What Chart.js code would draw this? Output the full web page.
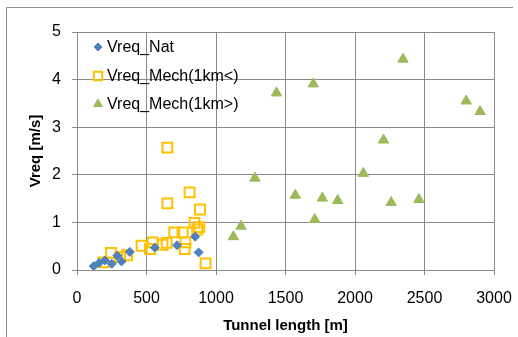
<!DOCTYPE html>
<html>
<head>
<meta charset="utf-8">
<script src="https://cdn.jsdelivr.net/npm/chart.js@4/dist/chart.umd.min.js"></script>
<style>
  html, body { margin: 0; padding: 0; background: #fff; }
  #wrap { width: 518px; height: 337px; position: relative; }
</style>
</head>
<body>
<div id="wrap"><canvas id="myChart" width="518" height="337"></canvas></div>
<script>
// Data
const natX = [120, 160, 200, 250, 290, 320, 380, 560, 720, 850, 875];
const natY = [0.08, 0.15, 0.20, 0.13, 0.30, 0.18, 0.38, 0.47, 0.52, 0.70, 0.37];

const mechLowX = [190, 245, 310, 360, 465, 525, 545, 615, 645, 650, 650, 700, 760, 780, 775, 810, 845, 865, 880, 885, 925];
const mechLowY = [0.16, 0.36, 0.27, 0.31, 0.51, 0.44, 0.58, 0.53, 0.57, 1.40, 2.57, 0.79, 0.79, 0.58, 0.44, 1.63, 0.99, 0.85, 0.90, 1.27, 0.14];

const mechHighX = [1125, 1180, 1280, 1435, 1570, 1700, 1710, 1765, 1875, 2060, 2205, 2260, 2345, 2460, 2800, 2900];
const mechHighY = [0.70, 0.92, 1.93, 3.72, 1.57, 3.91, 1.06, 1.51, 1.46, 2.03, 2.73, 1.42, 4.43, 1.48, 3.55, 3.33];

const seriesNames = ['Vreq_Nat', 'Vreq_Mech(1km<)', 'Vreq_Mech(1km>)'];
const xTicks = [0, 500, 1000, 1500, 2000, 2500, 3000];
const yTicks = [0, 1, 2, 3, 4, 5];

function toPoints(xs, ys) {
    return xs.map((x, i) => ({ x: x, y: ys[i] }));
}

const FONT = "'Liberation Sans', Arial, sans-serif";
const GRID = '#8a8a8a';

// Outer frame and legend drawn inside the plot area
const framePlugin = {
    id: 'frame',
    afterDraw(chart) {
        const ctx = chart.ctx;
        ctx.save();
        ctx.strokeStyle = '#8c8c8c';
        ctx.lineWidth = 1;
        ctx.beginPath();
        ctx.moveTo(6.5, 337);
        ctx.lineTo(6.5, 7.5);
        ctx.lineTo(513, 7.5);
        ctx.stroke();

        // legend
        const rows = [47, 76, 104];
        ctx.font = '16px ' + FONT;
        ctx.textBaseline = 'middle';
        chart.data.datasets.forEach((ds, i) => {
            const y = rows[i];
            const opts = {
                pointStyle: ds.pointStyle,
                radius: ds.legendRadius,
                borderWidth: ds.borderWidth,
                rotation: 0
            };
            ctx.strokeStyle = ds.borderColor;
            ctx.fillStyle = ds.backgroundColor;
            ctx.lineWidth = ds.borderWidth;
            Chart.helpers.drawPoint(ctx, opts, 98, y);
            ctx.fillStyle = '#000';
            ctx.fillText(ds.label, 107, y + 1);
        });
        ctx.restore();
    }
};

const data = {
    datasets: [
        {
            label: seriesNames[0],
            data: toPoints(natX, natY),
            pointStyle: 'rectRot',
            pointRadius: 4.5,
            legendRadius: 4,
            backgroundColor: '#4F81BD',
            borderColor: '#4F81BD',
            borderWidth: 1
        },
        {
            label: seriesNames[1],
            data: toPoints(mechLowX, mechLowY),
            pointStyle: 'rect',
            pointRadius: 7,
            legendRadius: 6,
            backgroundColor: 'rgba(0,0,0,0)',
            borderColor: '#FFC000',
            borderWidth: 2
        },
        {
            label: seriesNames[2],
            data: toPoints(mechHighX, mechHighY),
            pointStyle: 'triangle',
            pointRadius: 6,
            legendRadius: 5,
            backgroundColor: '#9BBB59',
            borderColor: '#9BBB59',
            borderWidth: 1
        }
    ]
};

const config = {
    type: 'scatter',
    data: data,
    plugins: [framePlugin],
    options: {
        responsive: false,
        animation: false,
        layout: { padding: { left: 0, right: 24, top: 32, bottom: 0 } },
        plugins: {
            legend: { display: false },
            tooltip: { enabled: false }
        },
        scales: {
            x: {
                type: 'linear',
                min: 0,
                max: 3000,
                afterBuildTicks: (scale) => { scale.ticks = xTicks.map(v => ({ value: v })); },
                afterFit: (scale) => {
                    scale.height = 67;
                    scale.paddingLeft = 0;
                    scale.paddingRight = 0;
                },
                grid: { color: GRID, tickLength: 5, tickColor: GRID },
                border: { color: GRID },
                ticks: {
                    color: '#000', font: { family: FONT, size: 16 }, padding: 14, maxRotation: 0,
                    callback: (v) => String(v)
                },
                title: {
                    display: true,
                    text: 'Tunnel length [m]',
                    color: '#000',
                    font: { family: FONT, size: 15, weight: 'bold' },
                    padding: { top: 2, bottom: 2 }
                }
            },
            y: {
                type: 'linear',
                min: 0,
                max: 5,
                afterBuildTicks: (scale) => { scale.ticks = yTicks.map(v => ({ value: v })); },
                afterFit: (scale) => { scale.width = 77; },
                grid: { color: GRID, tickLength: 5, tickColor: GRID },
                border: { color: GRID },
                ticks: {
                    color: '#000', font: { family: FONT, size: 16 }, padding: 11,
                    callback: (v) => String(v)
                },
                title: {
                    display: true,
                    text: 'Vreq [m/s]',
                    color: '#000',
                    font: { family: FONT, size: 15, weight: 'bold' },
                    padding: { top: 27, bottom: 0 }
                }
            }
        }
    }
};

const ctx = document.getElementById('myChart').getContext('2d');
const myChart = new Chart(ctx, config);
</script>
</body>
</html>
